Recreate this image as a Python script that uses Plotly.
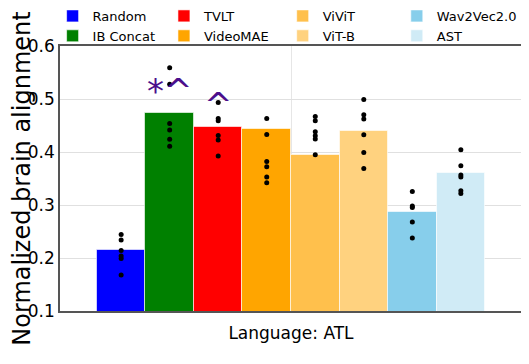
import plotly.graph_objects as go

# modelos (orden de las barras)
models = ["Random", "IB Concat", "TVLT", "VideoMAE", "ViViT", "ViT-B", "Wav2Vec2.0", "AST"]
colors = ["#0000FF", "#008000", "#FF0000", "#FFA500", "#FFC04C", "#FFD27F", "#87CEEB", "#D0EBF6"]

# altura de cada barra (media)
bar_values = [0.215, 0.474, 0.448, 0.443, 0.395, 0.440, 0.287, 0.361]

# puntos individuales por sujeto
subject_points = [
    [0.2445, 0.234, 0.214, 0.204, 0.199, 0.168],
    [0.559, 0.528, 0.454, 0.4415, 0.424, 0.411],
    [0.4936, 0.4634, 0.459, 0.431, 0.4226, 0.3925],
    [0.4634, 0.4332, 0.3823, 0.3723, 0.3528, 0.3421],
    [0.4672, 0.459, 0.4383, 0.4308, 0.4245, 0.3949],
    [0.4992, 0.4704, 0.4623, 0.4326, 0.3992, 0.369],
    [0.3257, 0.2981, 0.2955, 0.2679, 0.2377],
    [0.4043, 0.3742, 0.3566, 0.3528, 0.327, 0.3219],
]

# marcas de significancia
sig_labels = {"IB Concat": "*^", "TVLT": "^"}

# una leyenda por columna (2 modelos cada una)
legend_ids = ["legend", "legend2", "legend3", "legend4"]
legend_x = [-0.016, 0.225, 0.482, 0.729]

fig = go.Figure()

for i, (name, val, col) in enumerate(zip(models, bar_values, colors)):
    fig.add_trace(go.Bar(
        x=[i], y=[val], name=name, width=1.0,
        marker=dict(color=col, line=dict(color="rgba(255,255,255,0.6)", width=1)),
        legend=legend_ids[i // 2],
    ))

for i, pts in enumerate(subject_points):
    fig.add_trace(go.Scatter(
        x=[i] * len(pts), y=pts, mode="markers", showlegend=False,
        marker=dict(color="black", size=5),
    ))

for name, txt in sig_labels.items():
    i = models.index(name)
    fig.add_annotation(
        x=i, y=bar_values[i], text=txt, showarrow=False,
        yanchor="bottom", yshift=0, font=dict(size=34, color="#4B0F8C"),
    )

# la página añade 8px de margen al body: el lienzo es 8px más pequeño
fig.update_layout(
    width=521, height=356,
    margin=dict(l=52, r=7, t=38, b=53, autoexpand=False),
    plot_bgcolor="white", paper_bgcolor="white",
    font=dict(family="DejaVu Sans", size=17, color="black"),
    showlegend=True,
    bargap=0,
)
for lid, lx in zip(legend_ids, legend_x):
    fig.update_layout({lid: dict(
        orientation="v", x=lx, y=1.17, xanchor="left", yanchor="top",
        font=dict(size=13), itemwidth=30, tracegroupgap=0,
        bgcolor="rgba(0,0,0,0)",
    )})

fig.update_xaxes(
    range=[-1.26, 8.26], tickvals=[3.5], ticktext=[""],
    showgrid=True, gridcolor="#e6e6e6",
    showline=True, linecolor="#555555", linewidth=1.5, mirror=True,
    zeroline=False, automargin=False,
    title=dict(text="Language: ATL", font=dict(size=17), standoff=12),
)
fig.update_yaxes(
    range=[0.1, 0.6], dtick=0.1, tickformat=".1f",
    showgrid=True, gridcolor="#e0e0e0",
    showline=True, linecolor="#555555", linewidth=1.5, mirror=True,
    zeroline=False, tickfont=dict(size=17), automargin=False,
    title=dict(text="Normalized brain alignment", font=dict(size=24), standoff=0),
)

fig.write_html("out.html")
